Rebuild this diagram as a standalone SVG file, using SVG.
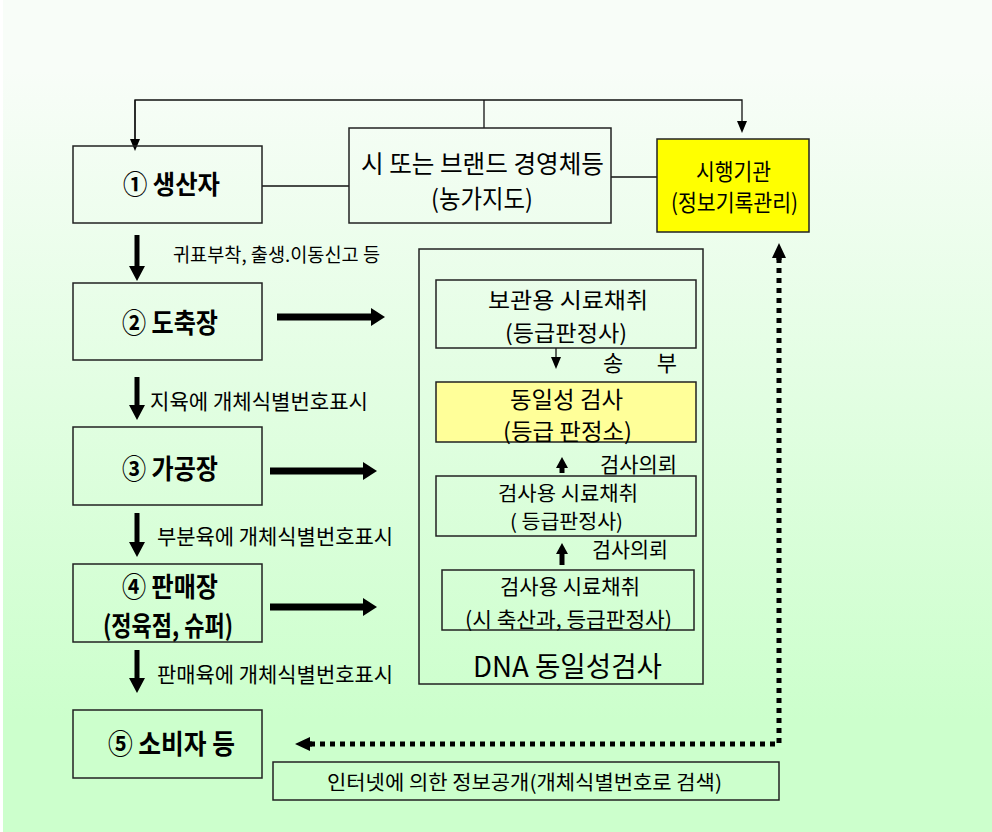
<svg xmlns="http://www.w3.org/2000/svg" width="992" height="832" viewBox="0 0 992 832">
<defs>
<linearGradient id="bg" gradientUnits="userSpaceOnUse" x1="0" y1="70" x2="0" y2="720">
<stop offset="0" stop-color="#f8fdf8"/>
<stop offset="1" stop-color="#ccffcc"/>
</linearGradient>
<marker id="mDown" markerUnits="userSpaceOnUse" markerWidth="16" markerHeight="18" viewBox="0 -9 16 18" refX="0" refY="0" orient="auto"><path d="M0,-8 L15,0 L0,8 z" fill="#000"/></marker>
<marker id="mRight" markerUnits="userSpaceOnUse" markerWidth="15" markerHeight="20" viewBox="0 -10 15 20" refX="0" refY="0" orient="auto"><path d="M0,-9 L14,0 L0,9 z" fill="#000"/></marker>
<marker id="mSmall" markerUnits="userSpaceOnUse" markerWidth="13" markerHeight="12" viewBox="0 -6 13 12" refX="0" refY="0" orient="auto"><path d="M0,-5 L12,0 L0,5 z" fill="#000"/></marker>
<marker id="mUp" markerUnits="userSpaceOnUse" markerWidth="13" markerHeight="14" viewBox="0 -7 13 14" refX="0" refY="0" orient="auto"><path d="M0,-6 L11,0 L0,6 z" fill="#000"/></marker>
<marker id="mDot" markerUnits="userSpaceOnUse" markerWidth="16" markerHeight="16" viewBox="0 -8 16 16" refX="0" refY="0" orient="auto"><path d="M0,-7 L15,0 L0,7 z" fill="#000"/></marker>
</defs>
<style>
.box{fill:none;stroke:#222;stroke-width:1.5}
.ln{fill:none;stroke:#111;stroke-width:1.3}
.t{font-family:"Noto Sans CJK KR","Noto Sans",sans-serif;fill:#000;text-anchor:middle}
.b{font-weight:bold}
.thick{stroke:#000;stroke-width:5;fill:none}
.thicker{stroke:#000;stroke-width:7;fill:none}
.dot{stroke:#000;stroke-width:5;fill:none;stroke-dasharray:5 5}
</style>
<rect x="0" y="0" width="992" height="832" fill="#ffffff"/>
<rect x="3" y="0" width="989" height="832" fill="url(#bg)"/>

<g id="connectors">
<polyline class="ln" points="135,139 135,100 742,100 742,121" marker-end="url(#mSmall)"/>
<polyline class="ln" points="135,100 135,139" marker-end="url(#mSmall)"/>
<line class="ln" x1="484" y1="100" x2="484" y2="128"/>
<line class="ln" x1="262" y1="186" x2="349" y2="186"/>
<line class="ln" x1="611" y1="177" x2="657" y2="177"/>
<line class="thick" x1="137" y1="235" x2="137" y2="266" marker-end="url(#mDown)"/>
<line class="thick" x1="137" y1="377" x2="137" y2="405" marker-end="url(#mDown)"/>
<line class="thick" x1="137" y1="513" x2="137" y2="542" marker-end="url(#mDown)"/>
<line class="thick" x1="137" y1="650" x2="137" y2="678" marker-end="url(#mDown)"/>
<line class="thicker" x1="277" y1="317" x2="371" y2="317" marker-end="url(#mRight)"/>
<line class="thicker" x1="270" y1="471" x2="363" y2="471" marker-end="url(#mRight)"/>
<line class="thicker" x1="270" y1="607" x2="363" y2="607" marker-end="url(#mRight)"/>
<line class="ln" x1="556" y1="348" x2="556" y2="357" marker-end="url(#mSmall)"/>
<line class="thick" x1="562" y1="473" x2="562" y2="468" marker-end="url(#mUp)"/>
<line class="thick" x1="562" y1="565" x2="562" y2="554" marker-end="url(#mUp)"/>
<polyline class="dot" points="310,744 779,744 779,258"/>
<line x1="779" y1="260" x2="779" y2="258" stroke="#000" stroke-width="5" marker-end="url(#mDot)"/>
<line x1="312" y1="744" x2="310" y2="744" stroke="#000" stroke-width="5" marker-end="url(#mDot)"/>
</g>

<g id="edge-labels">
<text class="t" x="276.5" y="262" font-size="19" textLength="207" lengthAdjust="spacingAndGlyphs">귀표부착, 출생.이동신고 등</text>
<text class="t" x="259" y="409" font-size="21" textLength="218" lengthAdjust="spacingAndGlyphs">지육에 개체식별번호표시</text>
<text class="t" x="275" y="544" font-size="21" textLength="236" lengthAdjust="spacingAndGlyphs">부분육에 개체식별번호표시</text>
<text class="t" x="275" y="682" font-size="21" textLength="236" lengthAdjust="spacingAndGlyphs">판매육에 개체식별번호표시</text>
<text class="t" x="640" y="371" font-size="22" textLength="74" lengthAdjust="spacing">송 부</text>
<text class="t" x="638.5" y="472" font-size="21" textLength="77" lengthAdjust="spacingAndGlyphs">검사의뢰</text>
<text class="t" x="630" y="557" font-size="21" textLength="76" lengthAdjust="spacingAndGlyphs">검사의뢰</text>
</g>

<g id="producer">
<rect class="box" x="73" y="146" width="189" height="77"/>
<text class="t b" x="171.5" y="194" font-size="26" textLength="97" lengthAdjust="spacingAndGlyphs">① 생산자</text>
</g>
<g id="brand">
<rect class="box" x="349" y="128" width="262" height="95"/>
<text class="t" x="482.5" y="173" font-size="25" textLength="243" lengthAdjust="spacingAndGlyphs">시 또는 브랜드 경영체등</text>
<text class="t" x="482" y="208" font-size="25" textLength="102" lengthAdjust="spacingAndGlyphs">(농가지도)</text>
</g>
<g id="agency">
<rect x="657" y="139" width="152" height="93" fill="#ffff00" stroke="#222" stroke-width="1.5"/>
<text class="t" x="733.5" y="180" font-size="23" textLength="75" lengthAdjust="spacingAndGlyphs">시행기관</text>
<text class="t" x="734.5" y="211" font-size="23" textLength="127" lengthAdjust="spacingAndGlyphs">(정보기록관리)</text>
</g>
<g id="slaughter">
<rect class="box" x="73" y="283" width="189" height="77"/>
<text class="t b" x="170" y="333" font-size="27" textLength="96" lengthAdjust="spacingAndGlyphs">② 도축장</text>
</g>
<g id="processing">
<rect class="box" x="73" y="427" width="189" height="78"/>
<text class="t b" x="170" y="479" font-size="27" textLength="96" lengthAdjust="spacingAndGlyphs">③ 가공장</text>
</g>
<g id="retail">
<rect class="box" x="73" y="564" width="189" height="78"/>
<text class="t b" x="170" y="597" font-size="27" textLength="96" lengthAdjust="spacingAndGlyphs">④ 판매장</text>
<text class="t b" x="168" y="636" font-size="27" textLength="130" lengthAdjust="spacingAndGlyphs">(정육점, 슈퍼)</text>
</g>
<g id="consumer">
<rect class="box" x="73" y="710" width="189" height="68"/>
<text class="t b" x="171.5" y="754" font-size="27" textLength="127" lengthAdjust="spacingAndGlyphs">⑤ 소비자 등</text>
</g>
<g id="dna">
<rect class="box" x="419" y="249" width="284" height="435"/>
<text class="t" x="567.5" y="677" font-size="28" textLength="189" lengthAdjust="spacingAndGlyphs">DNA 동일성검사</text>
</g>
<g id="storage-sample">
<rect class="box" x="436" y="280" width="260" height="68"/>
<text class="t" x="568" y="308" font-size="22" textLength="160" lengthAdjust="spacingAndGlyphs">보관용 시료채취</text>
<text class="t" x="566" y="341" font-size="22" textLength="122" lengthAdjust="spacingAndGlyphs">(등급판정사)</text>
</g>
<g id="identity-test">
<rect x="436" y="382" width="260" height="60" fill="#ffff99" stroke="#222" stroke-width="1.5"/>
<text class="t" x="566.5" y="408" font-size="23" textLength="113" lengthAdjust="spacingAndGlyphs">동일성 검사</text>
<text class="t" x="567.5" y="440" font-size="23" textLength="129" lengthAdjust="spacingAndGlyphs">(등급 판정소)</text>
</g>
<g id="test-sample-1">
<rect class="box" x="436" y="476" width="260" height="60"/>
<text class="t" x="568" y="501" font-size="20" textLength="140" lengthAdjust="spacingAndGlyphs">검사용 시료채취</text>
<text class="t" x="566.5" y="529" font-size="20" textLength="113" lengthAdjust="spacingAndGlyphs">( 등급판정사)</text>
</g>
<g id="test-sample-2">
<rect class="box" x="442" y="570" width="252" height="60"/>
<text class="t" x="570" y="594" font-size="21" textLength="140" lengthAdjust="spacingAndGlyphs">검사용 시료채취</text>
<text class="t" x="568.5" y="627" font-size="21" textLength="207" lengthAdjust="spacingAndGlyphs">(시 축산과, 등급판정사)</text>
</g>
<g id="internet">
<rect class="box" x="273" y="762" width="506" height="38"/>
<text class="t" x="524.5" y="790" font-size="20" textLength="395" lengthAdjust="spacingAndGlyphs">인터넷에 의한 정보공개(개체식별번호로 검색)</text>
</g>
</svg>
